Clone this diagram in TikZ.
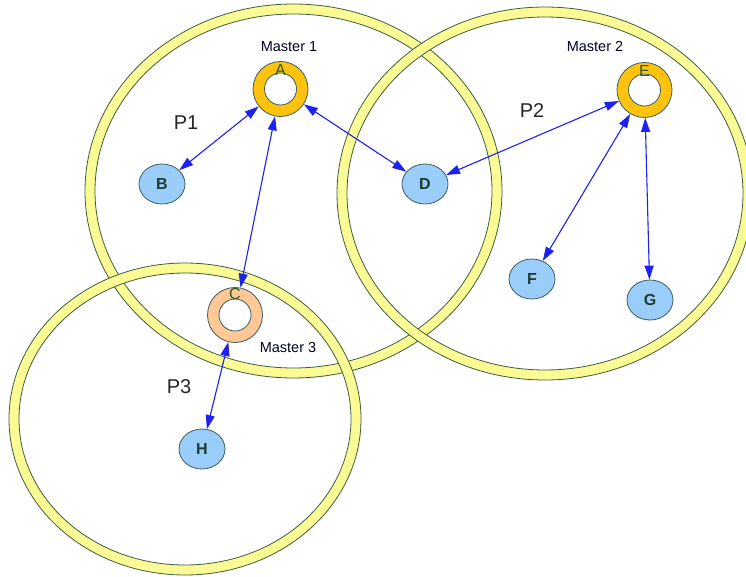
\documentclass[tikz,border=0pt]{standalone}
\usepackage{fontspec}
\setmainfont{Liberation Sans}
\usetikzlibrary{arrows.meta,shapes.geometric}

\definecolor{bandfill}{HTML}{FBFB96}
\definecolor{bandline}{HTML}{3E5E3E}
\definecolor{gold}{HTML}{FFC20E}
\definecolor{peach}{HTML}{FFC896}
\definecolor{nodeblue}{HTML}{9ACDFA}
\definecolor{nodeline}{HTML}{3A5E5A}
\definecolor{linkblue}{HTML}{1E22F0}
\definecolor{lettercol}{HTML}{1E3C34}
\definecolor{ringletter}{HTML}{2A5A1E}

\tikzset{
  band/.style={fill=bandfill, draw=bandline, line width=0.8pt, even odd rule},
  peer/.style={ellipse, draw=nodeline, line width=0.8pt, fill=nodeblue,
    minimum width=46pt, minimum height=40pt, inner sep=0pt,
    font=\fontsize{16}{16}\selectfont\bfseries, text=lettercol},
  master/.style={circle, draw=nodeline, line width=0.8pt, fill=#1,
    minimum size=55pt, inner sep=0pt,
    path picture={\draw[draw=nodeline, line width=0.8pt, fill=white]
      (path picture bounding box.center) circle (16pt);}},
  ringname/.style={font=\fontsize{16}{16}\selectfont, text=ringletter, inner sep=0pt},
  mastertag/.style={font=\fontsize{14.5}{14.5}\selectfont, text=black!85!blue, inner sep=0pt},
  grouptag/.style={font=\fontsize{20}{20}\selectfont, text=black!85, inner sep=0pt},
  link/.style={draw=linkblue, line width=1.1pt,
    {Triangle[length=14pt,width=9pt]}-{Triangle[length=14pt,width=9pt]}}
}

\begin{document}
\begin{tikzpicture}[x=1pt,y=-1pt]
  \useasboundingbox (0,0) rectangle (746,577);
  \fill[white] (0,0) rectangle (746,577);

  % group rings
  \path[band] (293.5,191) ellipse [x radius=208.5pt, y radius=187pt]
              (293.5,191) ellipse [x radius=198.5pt, y radius=177pt];
  \path[band] (545,193.5) ellipse [x radius=208pt, y radius=186.5pt]
              (545,193.5) ellipse [x radius=198pt, y radius=176.5pt];
  \path[band] (185,419) ellipse [x radius=176pt, y radius=156pt]
              (185,419) ellipse [x radius=166pt, y radius=146pt];

  % group names
  \node[grouptag] (P1) at (186,123) {P1};
  \node[grouptag] (P2) at (532,111) {P2};
  \node[grouptag] (P3) at (179,387) {P3};

  % masters
  \node[master=gold]  (A) at (280.5,89) {};
  \node[master=gold]  (E) at (644.5,90) {};
  \node[master=peach] (C) at (235,315) {};

  % peers
  \node[peer] (B) at (162,184) {B};
  \node[peer] (D) at (425,184) {D};
  \node[peer] (F) at (532,279) {F};
  \node[peer] (G) at (650,300) {G};
  \node[peer] (H) at (202,449) {H};

  % links
  \draw[link] (A) -- (B);
  \draw[link] (A) -- (D);
  \draw[link] (A) -- (C);
  \draw[link] (E) -- (D);
  \draw[link] (E) -- (F);
  \draw[link] (E) -- (G);
  \draw[link] (C) -- (H);

  % master letters and captions
  \node[ringname] (Aname) at ([yshift=-9pt]A.north) {A};
  \node[ringname] (Ename) at ([yshift=-9pt]E.north) {E};
  \node[ringname] (Cname) at ([yshift=-7pt]C.north) {C};
  \node[mastertag] (M1) at (289,47) {Master 1};
  \node[mastertag] (M2) at (595,47) {Master 2};
  \node[mastertag] (M3) at (288,348) {Master 3};
\end{tikzpicture}
\end{document}
